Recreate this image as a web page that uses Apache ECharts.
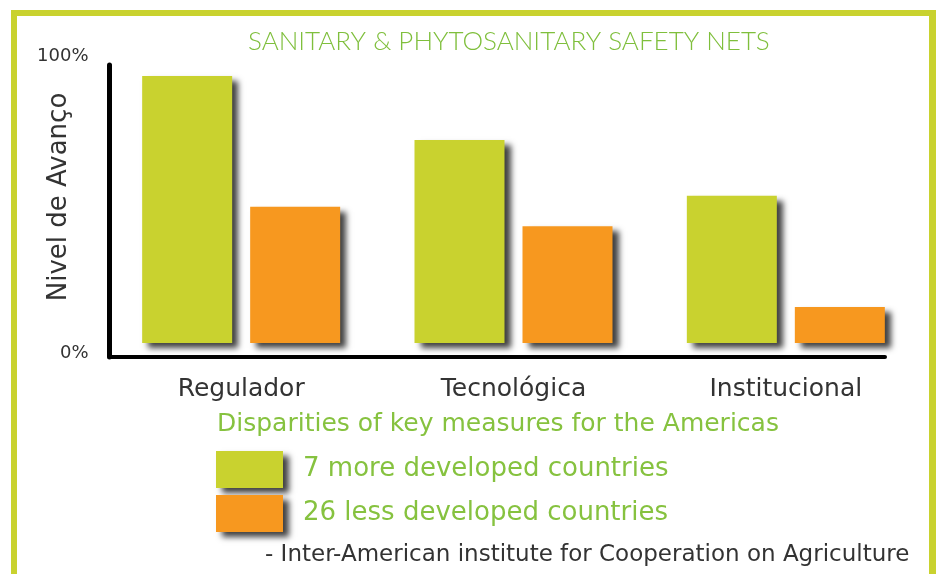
<!DOCTYPE html>
<html>
<head>
<meta charset="utf-8">
<script src="https://cdn.jsdelivr.net/npm/echarts@6/dist/echarts.min.js"></script>
<style>
    html, body { margin: 0; padding: 0; background: #fff; overflow: hidden; }
    .frame {
        position: absolute; left: 11px; top: 10px; width: 925px; height: 620px;
        border: 6px solid #c9d22f; border-bottom: none; border-right-width: 7px; box-sizing: border-box;
    }
    .box { position: absolute; left: 0; top: 0; width: 936px; height: 574px; }
</style>
</head>
<body>
<div class="frame"></div>
<div class="box"></div>
<script>
var categories = ['Regulador', 'Tecnológica', 'Institucional'];
var seriesNames = ['7 more developed countries', '26 less developed countries'];
var moreDeveloped = [96, 73, 53];
var lessDeveloped = [49, 42, 13];
var yTickValues = [-5, 100];
var yTickLabels = ['0%', '100%'];

var lime = '#c9d22f';
var orange = '#f7981f';
var green = '#86c23f';
var font = 'DejaVu Sans';

var myChart = echarts.init(document.querySelector('.box'));

var barShadow = {
    shadowColor: 'rgba(0,0,0,0.75)',
    shadowBlur: 6,
    shadowOffsetX: 6,
    shadowOffsetY: 5
};

var option = {
    animation: false,
    title: [{
        text: 'SANITARY & PHYTOSANITARY SAFETY NETS',
        left: 248,
        top: 29,
        padding: 0,
        textStyle: { fontFamily: 'Lato', fontSize: 26, fontWeight: 300, color: '#7fbf3c' }
    }, {
        text: 'Disparities of key measures for the Americas',
        left: 217,
        top: 412,
        padding: 0,
        textStyle: { fontFamily: font, fontSize: 25, fontWeight: 'normal', color: green }
    }, {
        text: '- Inter-American institute for Cooperation on Agriculture',
        left: 265,
        top: 544,
        padding: 0,
        textStyle: { fontFamily: font, fontSize: 23, fontWeight: 'normal', color: '#333' }
    }],
    legend: {
        data: seriesNames,
        orient: 'vertical',
        left: 216,
        top: 451,
        padding: 0,
        itemWidth: 67,
        itemHeight: 37,
        itemGap: 7,
        icon: 'rect',
        itemStyle: barShadow,
        textStyle: { fontFamily: font, fontSize: 26, color: green, padding: [0, 0, 0, 15] }
    },
    grid: [
        { left: 105, right: 14, top: 65, bottom: 217, outerBoundsMode: 'none' },
        { left: 109.5, right: 51, top: 65, bottom: 217, outerBoundsMode: 'none' }
    ],
    xAxis: [{
        type: 'category',
        gridIndex: 0,
        data: categories,
        axisLine: { show: false, onZero: false },
        axisTick: { show: false },
        axisLabel: { margin: 20, fontFamily: font, fontSize: 25, color: '#333' }
    }, {
        type: 'category',
        gridIndex: 1,
        data: categories,
        axisLine: { onZero: false, lineStyle: { color: '#000', width: 4 } },
        axisTick: { show: false },
        axisLabel: { show: false }
    }],
    yAxis: [{
        type: 'value',
        gridIndex: 0,
        min: -5,
        max: 100,
        axisLine: { show: false },
        axisTick: { show: false },
        axisLabel: { show: false },
        splitLine: { show: false }
    }, {
        type: 'value',
        gridIndex: 1,
        min: -5,
        max: 100,
        name: 'Nivel de Avanço',
        nameLocation: 'middle',
        nameGap: 37,
        nameMoveOverlap: false,
        nameTextStyle: { fontFamily: font, fontSize: 26, color: '#333', padding: [0, 0, 0, 28] },
        axisLine: { show: true, lineStyle: { color: '#000', width: 5 } },
        axisTick: { show: false },
        splitLine: { show: false },
        axisLabel: {
            customValues: yTickValues,
            margin: 21,
            verticalAlign: 'bottom',
            fontFamily: font,
            fontSize: 18,
            color: '#333',
            formatter: function(v) {
                var label = yTickLabels[yTickValues.indexOf(v)];
                return v === yTickValues[0] ? '{z|' + label + '}' : label;
            },
            rich: {
                z: { fontFamily: font, fontSize: 18, color: '#333', lineHeight: 8 }
            }
        }
    }],
    series: [{
        name: seriesNames[0],
        type: 'bar',
        xAxisIndex: 0,
        yAxisIndex: 0,
        barWidth: 90,
        barGap: '20%',
        data: moreDeveloped,
        itemStyle: Object.assign({ color: lime }, barShadow)
    }, {
        name: seriesNames[1],
        type: 'bar',
        xAxisIndex: 0,
        yAxisIndex: 0,
        barWidth: 90,
        barGap: '20%',
        data: lessDeveloped,
        itemStyle: Object.assign({ color: orange }, barShadow)
    }]
};
myChart.setOption(option);
</script>
</body>
</html>
